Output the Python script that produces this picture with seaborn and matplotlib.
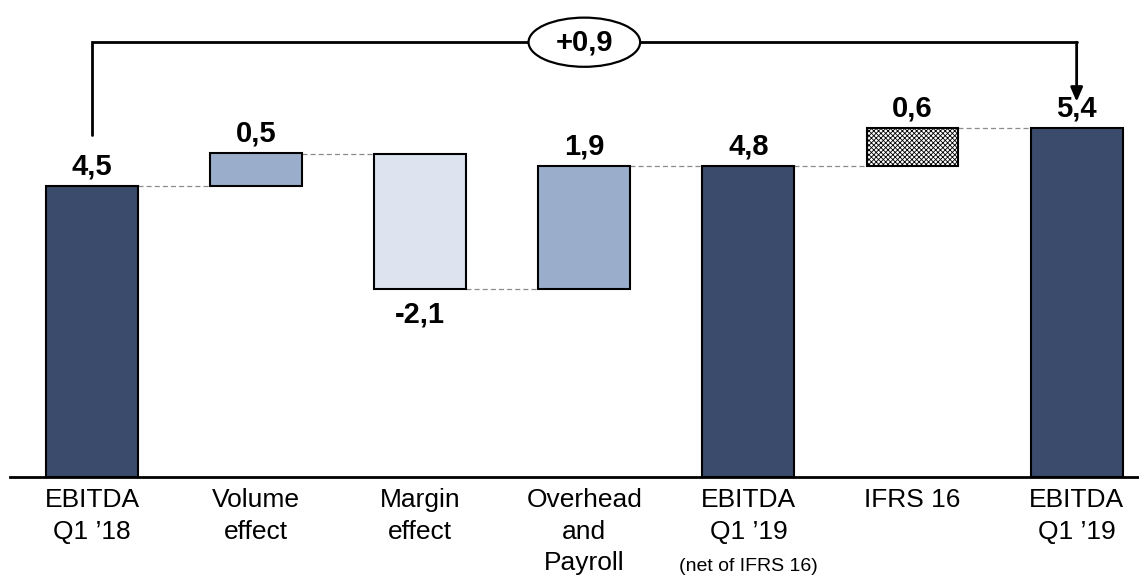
import numpy as np
import matplotlib
matplotlib.use("Agg")
import matplotlib.pyplot as plt
from matplotlib.patches import Ellipse
import seaborn as sns

# Chart data
categories = ["EBITDA\nQ1 \u201918", "Volume\neffect", "Margin\neffect",
              "Overhead\nand\nPayroll", "EBITDA\nQ1 \u201919", "IFRS 16",
              "EBITDA\nQ1 \u201919"]
values = [4.5, 0.5, -2.1, 1.9, 4.8, 0.6, 5.4]
is_total = [True, False, False, False, True, False, True]
bar_colors = ["#3b4b6b", "#9aaecb", "#dde4ef", "#9aaecb", "#3b4b6b", "#ffffff", "#3b4b6b"]
hatches = ["", "", "", "", "", "xxxxxxx", ""]
bridge_label = "+0,9"
sub_note = "(net of IFRS 16)"


def fmt(v):
    return f"{v:.1f}".replace(".", ",")


sns.set_theme(style="white")
plt.rcParams["font.family"] = ["Liberation Sans", "DejaVu Sans"]
plt.rcParams["hatch.linewidth"] = 0.6
plt.rcParams["text.color"] = "black"
plt.rcParams["xtick.color"] = "black"

fig = plt.figure(figsize=(11.39, 5.75), dpi=100)
ax = fig.add_axes([10 / 1139, 98 / 575, 1129 / 1139, 477 / 575])

# waterfall bottoms / tops
bottoms, tops = [], []
running = 0.0
for v, tot in zip(values, is_total):
    if tot:
        b, t = 0.0, v
        running = v
    else:
        b, t = sorted([running, running + v])
        running += v
    bottoms.append(b)
    tops.append(t)

x = np.arange(len(values))
w = 0.56
heights = np.array(tops) - np.array(bottoms)
bars = ax.bar(x, heights, bottom=bottoms, width=w, color=bar_colors,
              edgecolor="black", linewidth=1.5, zorder=3)
for b, h in zip(bars, hatches):
    if h:
        b.set_hatch(h)

# dashed connectors: each bar's end level carried to the next bar
for i in range(len(values) - 1):
    if is_total[i] or values[i] > 0:
        lvl = tops[i]
    else:
        lvl = bottoms[i]
    ax.plot([x[i] + w / 2, x[i + 1] - w / 2], [lvl, lvl],
            ls=(0, (4, 2.5)), color="#8c8c8c", lw=0.9, zorder=2)

# value labels
for i, v in enumerate(values):
    if v >= 0:
        ax.annotate(fmt(v), (x[i], tops[i]), xytext=(0, 4), textcoords="offset points",
                    ha="center", va="bottom", fontsize=21, fontweight="bold")
    else:
        ax.annotate(fmt(v), (x[i], bottoms[i]), xytext=(0, -8), textcoords="offset points",
                    ha="center", va="top", fontsize=21, fontweight="bold")

# bracket from first to last total
y_br = 6.72
ax.plot([x[0], x[0], x[-1]], [5.28, y_br, y_br], color="black", lw=2, zorder=4,
        solid_joinstyle="miter")
ax.annotate("", xy=(x[-1], 5.8), xytext=(x[-1], y_br),
            arrowprops=dict(arrowstyle="-|>,head_length=0.7,head_width=0.3",
                            color="black", lw=2, shrinkA=0, shrinkB=0), zorder=4)
ax.add_patch(Ellipse((3.0, y_br), 0.68, 0.76, facecolor="white", edgecolor="black",
                     lw=1.6, zorder=5))
ax.text(3.0, y_br, bridge_label, ha="center", va="center", fontsize=21,
        fontweight="bold", zorder=6)

ax.set_xlim(-0.5, 6.38)
ax.set_ylim(0, 477 / 64.7)
ax.set_xticks(x)
ax.set_xticklabels(categories, fontsize=19, linespacing=1.4)
ax.tick_params(axis="x", length=0, pad=8)
ax.set_yticks([])
for s in ["top", "left", "right"]:
    ax.spines[s].set_visible(False)
ax.spines["bottom"].set_color("black")
ax.spines["bottom"].set_linewidth(2)

ax.text(x[4], -81 / 64.7, sub_note, ha="center", va="top", fontsize=14)

fig.savefig("out.png", dpi=100)
